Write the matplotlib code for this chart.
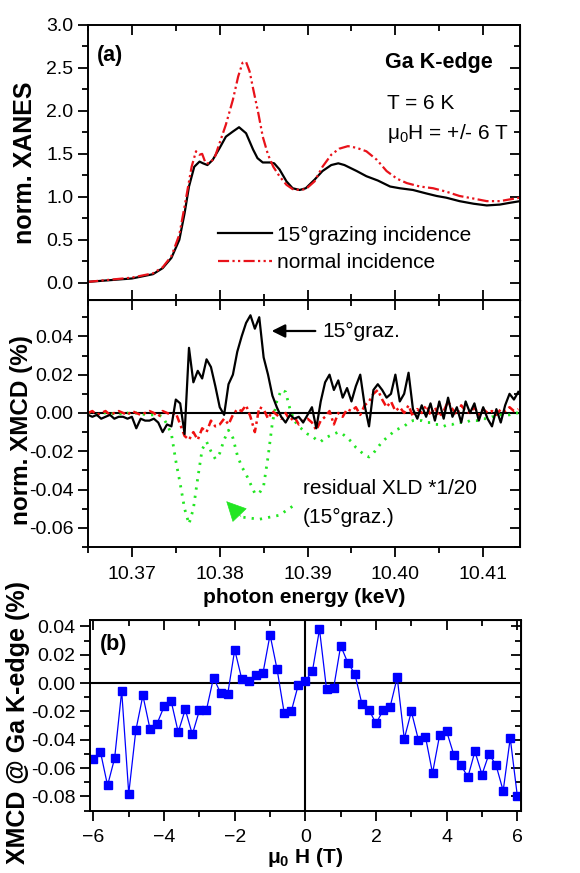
import numpy as np
import matplotlib
matplotlib.use('Agg')
import matplotlib.pyplot as plt
from matplotlib.ticker import MultipleLocator

plt.rcParams['font.family'] = ['Liberation Sans', 'DejaVu Sans']
plt.rcParams['mathtext.fontset'] = 'custom'
plt.rcParams['mathtext.rm'] = 'Liberation Sans'
plt.rcParams['mathtext.bf'] = 'Liberation Sans:bold'

# ---- panel (a): XANES ----
e_graz = [10.3649, 10.370, 10.3724, 10.3735, 10.3745, 10.3754, 10.376, 10.3765, 10.3771, 10.3777,
          10.3781, 10.3786, 10.3792, 10.380, 10.3807, 10.3815, 10.3822, 10.383, 10.3838, 10.3843,
          10.3849, 10.3857, 10.3862, 10.3868, 10.3876, 10.3883, 10.3891, 10.3898, 10.3908, 10.3917,
          10.3927, 10.3935, 10.3942, 10.3956, 10.3967, 10.398, 10.3994, 10.4005, 10.402, 10.4035,
          10.4047, 10.4058, 10.4073, 10.4089, 10.4104, 10.4119, 10.413, 10.4142]
xanes_graz = [0.01, 0.05, 0.10, 0.17, 0.29, 0.50, 0.81, 1.12, 1.35, 1.41,
              1.39, 1.37, 1.43, 1.57, 1.70, 1.76, 1.81, 1.74, 1.55, 1.45,
              1.40, 1.40, 1.39, 1.32, 1.18, 1.10, 1.08, 1.10, 1.20, 1.30,
              1.37, 1.39, 1.37, 1.30, 1.24, 1.19, 1.12, 1.10, 1.08, 1.04,
              1.01, 0.99, 0.95, 0.92, 0.90, 0.91, 0.93, 0.95]

e_norm = [10.3649, 10.370, 10.3724, 10.3735, 10.3745, 10.3754, 10.376, 10.3764, 10.3768, 10.3773,
          10.3777, 10.3780, 10.3784, 10.3788, 10.3794, 10.380, 10.3807, 10.3815, 10.3821, 10.3826,
          10.3830, 10.3834, 10.3838, 10.3844, 10.3849, 10.3855, 10.3861, 10.3868, 10.3876, 10.3883,
          10.3891, 10.3898, 10.3908, 10.3917, 10.3927, 10.3936, 10.3946, 10.3956, 10.3967, 10.3979,
          10.399, 10.4002, 10.4013, 10.4028, 10.4043, 10.4058, 10.4073, 10.4089, 10.4104, 10.4119,
          10.413, 10.4142]
xanes_norm = [0.01, 0.06, 0.11, 0.18, 0.31, 0.56, 0.89, 1.12, 1.35, 1.53,
              1.49, 1.50, 1.39, 1.39, 1.45, 1.63, 1.84, 2.13, 2.40, 2.56,
              2.57, 2.46, 2.26, 1.97, 1.70, 1.49, 1.35, 1.24, 1.14, 1.09,
              1.08, 1.09, 1.18, 1.35, 1.49, 1.56, 1.59, 1.57, 1.53, 1.43,
              1.30, 1.21, 1.16, 1.12, 1.10, 1.06, 1.01, 0.98, 0.95, 0.95,
              0.97, 0.99]

# ---- XMCD spectra (units of 1e-3 %), on a 0.5 eV grid ----
energy = np.round(10.365 + 0.0005 * np.arange(99), 4)
xmcd_graz = [-1, -2, -1, -3, -2, -1, -3, -2, -2, -3,
             -2, -8, -3, -4, -4, -3, -5, -10, -6, -7,
             7, 5, -11, 34, 16, 22, 18, 28, 24, 14,
             3, -1, 15, 20, 32, 40, 47, 51, 44, 50,
             29, 20, 9, 3, -2, -5, -1, -3, -2, -5,
             -1, 3, -8, 6, 16, 20, 12, 17, 8, 13,
             6, 14, 20, 4, -7, 12, 15, 12, 8, 10,
             20, 6, 10, 21, 2, -3, 4, -2, 5, -4,
             6, -3, 8, -2, 3, -5, 6, 0, 5, -4,
             3, -3, -7, 2, -5, 4, 10, 7, 11]
xmcd_norm = [0, 1, -1, 0, 1, -1, 0, 1, 0, -1,
             1, 0, -1, 0, 1, 0, -2, 1, 0, -1,
             0, -6, -12, -14, -10, -14, -8, -10, -4, -7,
             -6, -3, -6, -1, 2, 1, 4, -2, -10, 3,
             2, -3, 1, -1, -3, 0, -4, -2, -6, -4,
             -3, -5, -9, -4, -2, 1, -6, 0, -2, 2,
             1, 3, -1, 4, 6, 10, 12, 7, 3, 6,
             1, 3, 0, 4, -2, 2, 0, 4, -1, 3,
             -2, 1, 6, 2, -1, 4, 1, 0, 3, -1,
             2, 0, 1, -1, 2, 1, 3, 1, 2]
xld_graz = [0, 0, -1, 0, 0, -1, 0, 0, -1, 0,
            -1, 0, 0, -1, -1, -1, -1, -2, -6, -11,
            -25, -37, -50, -58, -50, -34, -19, -15, -20, -24,
            -21, -14, -9, -13, -22, -28, -32, -37, -42, -42,
            -38, -23, -5, 6, 12, 11, 2, -4, -7, -9,
            -11, -12, -14, -15, -13, -12, -11, -10, -11, -13,
            -15, -18, -20, -22, -23, -21, -18, -15, -13, -11,
            -9, -8, -7, -5, -4, -4, -4, -5, -5, -6,
            -6, -7, -6, -6, -5, -5, -5, -4, -4, -4,
            -3, -3, -2, -2, -1, -1, -1, 0, 0]

# ---- panel (b): field dependence ----
field = [-6.0, -5.8, -5.6, -5.4, -5.2, -5.0, -4.8, -4.6, -4.4, -4.2,
         -4.0, -3.8, -3.6, -3.4, -3.2, -3.0, -2.8, -2.6, -2.4, -2.2,
         -2.0, -1.8, -1.6, -1.4, -1.2, -1.0, -0.8, -0.6, -0.4, -0.2,
         0.0, 0.2, 0.4, 0.6, 0.8, 1.0, 1.2, 1.4, 1.6, 1.8,
         2.0, 2.2, 2.4, 2.6, 2.8, 3.0, 3.2, 3.4, 3.6, 3.8,
         4.0, 4.2, 4.4, 4.6, 4.8, 5.0, 5.2, 5.4, 5.6, 5.8, 6.0]
xmcd_field = [-0.0534, -0.0487, -0.0722, -0.0530, -0.0056, -0.0780, -0.0334, -0.0087, -0.0322, -0.0287,
              -0.0165, -0.0127, -0.0346, -0.0186, -0.0362, -0.0193, -0.0188, 0.0038, -0.0071, -0.0080,
              0.0235, 0.0028, 0.0012, 0.0059, 0.0071, 0.0341, 0.0096, -0.0209, -0.0200, -0.0012,
              0.0014, 0.0085, 0.0379, -0.0045, -0.0035, 0.0264, 0.0144, 0.0066, -0.0146, -0.0188,
              -0.0285, -0.0193, -0.0167, 0.0040, -0.0393, -0.0200, -0.0400, -0.0379, -0.0635, -0.0369,
              -0.0341, -0.0504, -0.0576, -0.0664, -0.0482, -0.0645, -0.0499, -0.0581, -0.0760, -0.0388, -0.0795]

TICK = 14
LAB = 18
GREEN = '#22e622'


def style(ax):
    for s in ax.spines.values():
        s.set_linewidth(1.4)
    ax.tick_params(which='both', labelsize=TICK, width=1.3)
    ax.tick_params(which='major', length=7)
    ax.tick_params(which='minor', length=4)


def mirror(sec):
    sec.tick_params(which='both', direction='in', labelright=False, labeltop=False, width=1.3)
    sec.tick_params(which='major', length=7)
    sec.tick_params(which='minor', length=4)


fig = plt.figure(figsize=(5.8, 8.73), dpi=100)
ax1 = fig.add_axes([0.1517, 0.6564, 0.745, 0.315])
ax2 = fig.add_axes([0.1517, 0.3734, 0.745, 0.283])
ax3 = fig.add_axes([0.155, 0.0714, 0.743, 0.2184])

# (a)
ax1.plot(e_graz, xanes_graz, color='black', lw=1.6, label='15\u00b0grazing incidence')
ax1.plot(e_norm, xanes_norm, color='#e8121a', lw=1.6, dashes=(5, 1.5, 1, 1.5, 1, 1.5),
         label='normal incidence')
ax1.set_xlim(10.365, 10.4142)
ax1.set_ylim(-0.2, 3.0)
ax1.xaxis.set_major_locator(MultipleLocator(0.01))
ax1.xaxis.set_minor_locator(MultipleLocator(0.005))
ax1.set_yticks([0, 0.5, 1.0, 1.5, 2.0, 2.5, 3.0])
ax1.yaxis.set_minor_locator(MultipleLocator(0.25))
ax1.yaxis.set_major_formatter(plt.FormatStrFormatter('%.1f'))
style(ax1)
ax1.tick_params(axis='x', which='both', direction='in', top=True, bottom=True, labelbottom=False)
ax1.tick_params(axis='y', which='both', direction='out', left=True)
ax1.set_ylabel('norm. XANES', fontsize=LAB, fontweight='bold')
ax1.yaxis.set_label_coords(-0.118, 0.5)
ax1.text(0.021, 0.89, '(a)', transform=ax1.transAxes, fontsize=15.5, fontweight='bold', va='center')
ax1.text(0.9375, 0.865, 'Ga K-edge', transform=ax1.transAxes, fontsize=15.5, fontweight='bold',
         ha='right', va='center')
ax1.text(0.692, 0.716, 'T = 6 K', transform=ax1.transAxes, fontsize=15, va='center')
ax1.text(0.692, 0.607, '\u03bc$_0$H = +/- 6 T', transform=ax1.transAxes, fontsize=15, va='center')
ax1.legend(loc='upper left', bbox_to_anchor=(0.30, 0.27), frameon=False, fontsize=15,
           handlelength=2.6, handletextpad=0.25, labelspacing=0.4, borderpad=0, borderaxespad=0)
r1 = ax1.secondary_yaxis('right')
r1.set_yticks([0, 0.5, 1.0, 1.5, 2.0, 2.5, 3.0])
r1.yaxis.set_minor_locator(MultipleLocator(0.25))
mirror(r1)

# XMCD spectra
ax2.axhline(0, color='black', lw=1.5)
ax2.plot(energy, np.array(xld_graz) * 1e-3, color=GREEN, lw=2.0, linestyle=(0, (0.8, 2.2)))
ax2.plot(energy, np.array(xmcd_norm) * 1e-3, color='#f01010', lw=1.8, dashes=(3, 1.5, 1, 1.5))
ax2.plot(energy, np.array(xmcd_graz) * 1e-3, color='black', lw=1.6)
ax2.set_xlim(10.365, 10.4142)
ax2.set_ylim(-0.07, 0.059)
ax2.xaxis.set_major_locator(MultipleLocator(0.01))
ax2.xaxis.set_minor_locator(MultipleLocator(0.005))
ax2.set_yticks([-0.06, -0.04, -0.02, 0.0, 0.02, 0.04])
ax2.yaxis.set_minor_locator(MultipleLocator(0.01))
ax2.yaxis.set_major_formatter(plt.FormatStrFormatter('%.2f'))
ax2.xaxis.set_major_formatter(plt.FormatStrFormatter('%.2f'))
style(ax2)
ax2.tick_params(which='both', direction='out')
ax2.tick_params(axis='x', which='major', pad=7)
t2 = ax2.secondary_xaxis('top')
t2.xaxis.set_major_locator(MultipleLocator(0.01))
t2.xaxis.set_minor_locator(MultipleLocator(0.005))
mirror(t2)
r2 = ax2.secondary_yaxis('right')
r2.set_yticks([-0.06, -0.04, -0.02, 0.0, 0.02, 0.04])
r2.yaxis.set_minor_locator(MultipleLocator(0.01))
mirror(r2)
ax2.set_ylabel('norm. XMCD (%)', fontsize=LAB - 0.5, fontweight='bold')
ax2.yaxis.set_label_coords(-0.127, 0.474)
ax2.set_xlabel('photon energy (keV)', fontsize=15, fontweight='bold', labelpad=3)
ax2.annotate('', xy=(10.3856, 0.0428), xytext=(10.3912, 0.0428),
             arrowprops=dict(arrowstyle='-|>', color='black', lw=1.6, mutation_scale=20))
ax2.text(10.3917, 0.0428, '15\u00b0graz.', fontsize=15, va='center')
ax2.text(10.3895, -0.0394, 'residual XLD *1/20', fontsize=15, va='center')
ax2.text(10.3895, -0.0546, '(15\u00b0graz.)', fontsize=15, va='center')
# curved dotted pointer to the XLD curve
ax2.plot([10.38827, 10.38679, 10.38451, 10.38256], [-0.0488, -0.0534, -0.0555, -0.0544],
         color=GREEN, lw=2.0, linestyle=(0, (0.8, 2.2)))
ax2.annotate('', xy=(10.38075, -0.0461), xytext=(10.38240, -0.0540),
             arrowprops=dict(arrowstyle='-|>,head_length=0.6,head_width=0.3', color=GREEN,
                             lw=0.5, mutation_scale=22, shrinkA=0, shrinkB=0))

# (b)
ax3.axhline(0, color='black', lw=1.5)
ax3.axvline(0, color='black', lw=1.5)
ax3.plot(field, xmcd_field, color='#0000ff', lw=0.9, marker='s', markersize=5.5)
ax3.set_xlim(-6.1, 6.1)
ax3.set_ylim(-0.09, 0.0445)
ax3.xaxis.set_major_locator(MultipleLocator(2))
ax3.xaxis.set_minor_locator(MultipleLocator(1))
ax3.set_yticks([-0.08, -0.06, -0.04, -0.02, 0.0, 0.02, 0.04])
ax3.yaxis.set_minor_locator(MultipleLocator(0.01))
ax3.yaxis.set_major_formatter(plt.FormatStrFormatter('%.2f'))
style(ax3)
ax3.tick_params(which='both', direction='out')
ax3.tick_params(axis='x', which='major', pad=6)
t3 = ax3.secondary_xaxis('top')
t3.xaxis.set_major_locator(MultipleLocator(2))
t3.xaxis.set_minor_locator(MultipleLocator(1))
mirror(t3)
r3 = ax3.secondary_yaxis('right')
r3.set_yticks([-0.08, -0.06, -0.04, -0.02, 0.0, 0.02, 0.04])
r3.yaxis.set_minor_locator(MultipleLocator(0.01))
mirror(r3)
ax3.set_ylabel('XMCD @ Ga K-edge (%)', fontsize=LAB, fontweight='bold')
ax3.yaxis.set_label_coords(-0.139, 0.465)
ax3.set_xlabel('\u03bc$_\\mathbf{0}$ H (T)', fontsize=15, fontweight='bold', labelpad=0)
ax3.text(0.023, 0.869, '(b)', transform=ax3.transAxes, fontsize=15.5, fontweight='bold', va='center')

fig.savefig('out.png', dpi=100)
